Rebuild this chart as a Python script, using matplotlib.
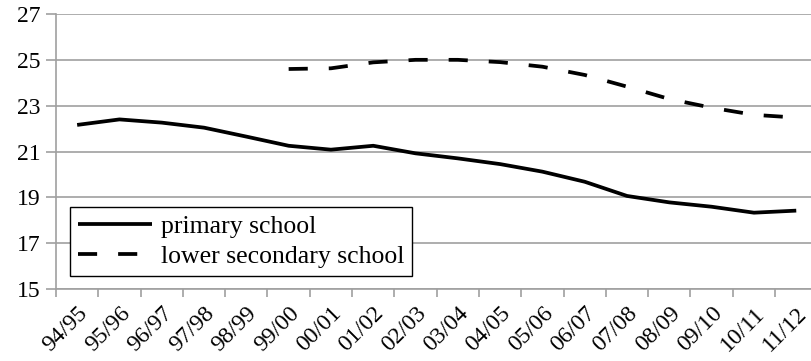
import numpy as np
import matplotlib.pyplot as plt
from matplotlib.ticker import FixedLocator, NullFormatter

years = ["94/95", "95/96", "96/97", "97/98", "98/99", "99/00", "00/01", "01/02", "02/03",
         "03/04", "04/05", "05/06", "06/07", "07/08", "08/09", "09/10", "10/11", "11/12"]
primary = [22.16, 22.40, 22.26, 22.04, 21.65, 21.25, 21.08, 21.25, 20.92,
           20.70, 20.45, 20.12, 19.68, 19.06, 18.78, 18.59, 18.33, 18.42]
lower_secondary = [np.nan, np.nan, np.nan, np.nan, np.nan, 24.60, 24.63, 24.89, 25.00,
                   25.00, 24.90, 24.70, 24.34, 23.83, 23.29, 22.91, 22.60, 22.48]

plt.rcParams['font.family'] = ['Liberation Serif', 'DejaVu Serif']
grid_col = '#a0a0a0'

fig = plt.figure(figsize=(8.12, 3.61), dpi=100)
ax = fig.add_axes([56 / 812, 72 / 361, 1 - 56 / 812, 275 / 361])

x = np.arange(len(years))
ax.plot(x, primary, color='black', lw=2.7, label='primary school', solid_capstyle='butt')
ax.plot(x, lower_secondary, color='black', lw=2.7, dashes=(5.1, 5.6), label='lower secondary school')

ax.set_ylim(15, 27)
ax.set_yticks(np.arange(15, 28, 2))
ax.set_xlim(-0.5, (812 - 56) / 42.3 - 0.5)

ax.xaxis.set_major_locator(FixedLocator(np.arange(len(years)) - 0.5))
ax.xaxis.set_major_formatter(NullFormatter())
ax.xaxis.set_minor_locator(FixedLocator(x))
ax.set_xticklabels(years, minor=True, rotation=45, ha='right', va='top', rotation_mode='anchor')
ax.tick_params(axis='x', which='major', length=6, color=grid_col, width=1.2)
ax.tick_params(axis='x', which='minor', length=0, pad=10, labelsize=17)
ax.tick_params(axis='y', length=7, color=grid_col, width=1.2, labelsize=17, pad=4)

ax.grid(axis='y', color=grid_col, lw=1.2)
ax.set_axisbelow(True)
for s in ['top', 'right']:
    ax.spines[s].set_visible(False)
for s in ['left', 'bottom']:
    ax.spines[s].set_color(grid_col)
    ax.spines[s].set_linewidth(1.2)

leg = ax.legend(loc='lower left', bbox_to_anchor=(14 / 756, 13 / 275), fontsize=18.5, frameon=True,
                fancybox=False, framealpha=1, edgecolor='black', handlelength=2.9,
                borderpad=0.3, labelspacing=0.3, handletextpad=0.35, borderaxespad=0)
leg.get_frame().set_linewidth(1.0)

fig.savefig('out.png', dpi=100)
